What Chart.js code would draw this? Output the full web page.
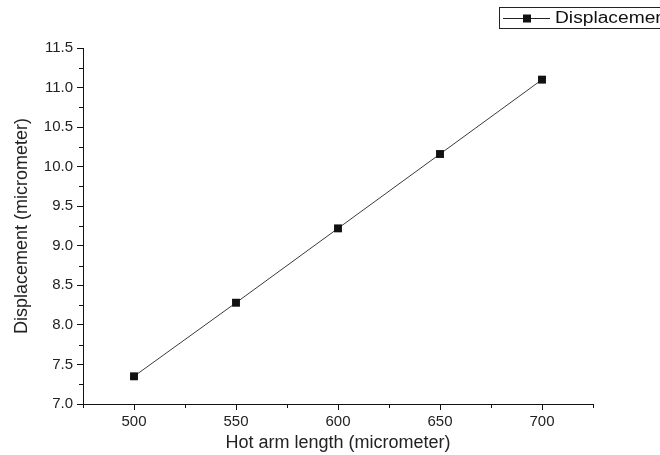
<!DOCTYPE html>
<html>
<head>
<meta charset="utf-8">
<script src="https://cdn.jsdelivr.net/npm/chart.js@4/dist/chart.umd.min.js"></script>
<style>
  html, body { margin: 0; padding: 0; background: #fff; }
  #wrap { width: 660px; height: 455px; }
</style>
</head>
<body>
<div id="wrap"><canvas id="lineChart" width="660" height="455"></canvas></div>
<script>
const hotArmLength = [500, 550, 600, 650, 700];
const displacement = [7.35, 8.28, 9.22, 10.16, 11.1];
const seriesLabel = "Displacement";
const xTitle = "Hot arm length (micrometer)";
const yTitle = "Displacement (micrometer)";

const FONT = "'Liberation Sans', Arial, sans-serif";

// minor ticks between the labelled ones (drawn shorter, like the original)
const minorTicks = {
  id: "minorTicks",
  afterDraw(chart) {
    const { ctx, scales: { x, y } } = chart;
    ctx.save();
    ctx.strokeStyle = "#111";
    ctx.lineWidth = 1;
    ctx.beginPath();
    for (let v = 475; v <= 725; v += 50) {
      const px = Math.round(x.getPixelForValue(v)) + 0.5;
      ctx.moveTo(px, y.bottom);
      ctx.lineTo(px, y.bottom + 4);
    }
    for (let v = 7.25; v < 11.5; v += 0.5) {
      const py = Math.round(y.getPixelForValue(v)) + 0.5;
      ctx.moveTo(x.left, py);
      ctx.lineTo(x.left - 4, py);
    }
    ctx.stroke();
    ctx.restore();
  }
};

// boxed legend in the top right corner, runs off the edge like the original
const boxLegend = {
  id: "boxLegend",
  afterDraw(chart) {
    const ctx = chart.ctx;
    const ds = chart.data.datasets[0];
    ctx.save();
    ctx.strokeStyle = "#222";
    ctx.lineWidth = 1;
    ctx.strokeRect(499.5, 7.5, 200, 21);
    ctx.beginPath();
    ctx.moveTo(503, 18.5);
    ctx.lineTo(550, 18.5);
    ctx.stroke();
    ctx.fillStyle = "#111";
    ctx.fillRect(523, 14.5, 8, 8);
    ctx.font = "16px " + FONT;
    ctx.textBaseline = "middle";
    ctx.translate(555, 19);
    ctx.scale(1.2, 1);
    ctx.fillText(ds.label, 0, 0);
    ctx.restore();
  }
};

const ctx = document.getElementById("lineChart");
new Chart(ctx, {
  type: "line",
  data: {
    datasets: [{
      label: seriesLabel,
      data: hotArmLength.map((h, i) => ({ x: h, y: displacement[i] })),
      borderColor: "#3a3a3a",
      borderWidth: 1,
      backgroundColor: "#111",
      pointStyle: "rect",
      pointRadius: 5.6,
      pointBorderWidth: 0,
      pointBackgroundColor: "#111",
      tension: 0
    }]
  },
  options: {
    responsive: false,
    animation: false,
    layout: { padding: { top: 48, right: 67, left: 0, bottom: 0 } },
    plugins: {
      legend: { display: false },
      tooltip: { enabled: false }
    },
    scales: {
      x: {
        type: "linear",
        min: 475,
        max: 725,
        afterBuildTicks: (s) => { s.ticks = hotArmLength.map(v => ({ value: v })); },
        afterFit: (s) => { s.height = 51; },
        border: { display: true, color: "#111", width: 1 },
        grid: { display: true, drawOnChartArea: false, drawTicks: true, tickLength: 6, color: "#111" },
        ticks: { color: "#222", font: { family: FONT, size: 15 }, padding: 3, maxRotation: 0 },
        title: { display: true, text: xTitle, color: "#222", font: { family: FONT, size: 18 }, padding: { top: 0, bottom: 1 } }
      },
      y: {
        type: "linear",
        min: 7.0,
        max: 11.5,
        afterBuildTicks: (s) => {
          const t = [];
          for (let v = 7.0; v <= 11.5001; v += 0.5) t.push({ value: v });
          s.ticks = t;
        },
        afterFit: (s) => { s.width = 83; },
        border: { display: true, color: "#111", width: 1 },
        grid: { display: true, drawOnChartArea: false, drawTicks: true, tickLength: 6, color: "#111" },
        ticks: {
          color: "#222",
          font: { family: FONT, size: 15 },
          padding: 4,
          callback: (v) => Number(v).toFixed(1)
        },
        title: { display: true, text: yTitle, color: "#222", font: { family: FONT, size: 18 }, padding: { top: 11, bottom: 6 } }
      }
    }
  },
  plugins: [minorTicks, boxLegend]
});
</script>
</body>
</html>
